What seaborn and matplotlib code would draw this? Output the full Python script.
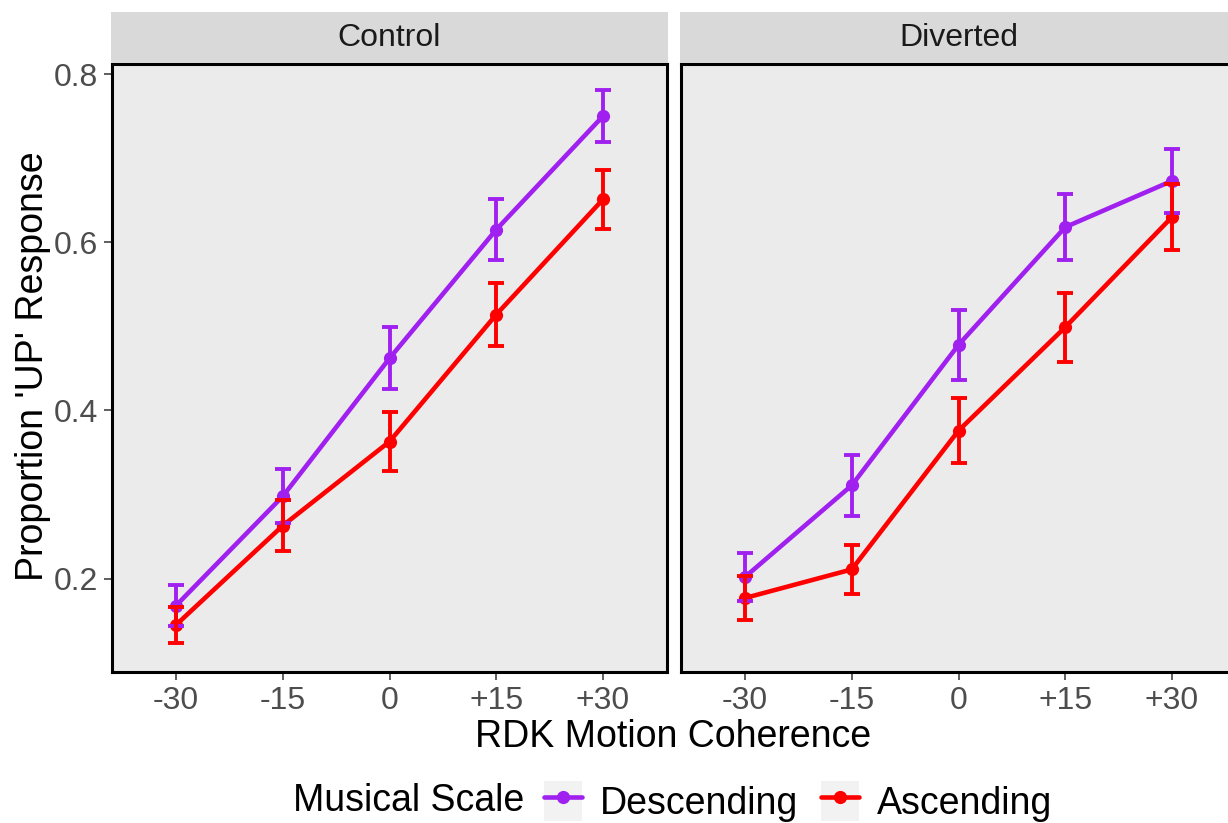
import pandas as pd
import matplotlib
matplotlib.use("Agg")
import matplotlib.pyplot as plt
import seaborn as sns
from matplotlib.patches import Patch
from matplotlib.lines import Line2D
from matplotlib.legend_handler import HandlerTuple
from matplotlib.offsetbox import HPacker

# data
coherence = ["-30", "-15", "0", "+15", "+30"]
conditions = ["Control", "Diverted"]
scales = ["Descending", "Ascending"]

control_desc = [0.168, 0.298, 0.462, 0.615, 0.750]
control_desc_se = [0.024, 0.032, 0.037, 0.036, 0.031]
control_asc = [0.145, 0.263, 0.363, 0.514, 0.651]
control_asc_se = [0.021, 0.030, 0.035, 0.037, 0.035]
diverted_desc = [0.202, 0.311, 0.478, 0.618, 0.673]
diverted_desc_se = [0.029, 0.036, 0.042, 0.039, 0.038]
diverted_asc = [0.177, 0.211, 0.376, 0.499, 0.630]
diverted_asc_se = [0.026, 0.029, 0.039, 0.041, 0.039]

colors = {"Descending": "#A020F0", "Ascending": "#FF0000"}

rows = []
series = {
    ("Control", "Descending"): (control_desc, control_desc_se),
    ("Control", "Ascending"): (control_asc, control_asc_se),
    ("Diverted", "Descending"): (diverted_desc, diverted_desc_se),
    ("Diverted", "Ascending"): (diverted_asc, diverted_asc_se),
}
for (cond, sc), (vals, ses) in series.items():
    for i, (v, s) in enumerate(zip(vals, ses)):
        rows.append({"condition": cond, "scale": sc, "pos": i,
                     "prop": v, "se": s})
df = pd.DataFrame(rows)

sns.set_style("white")
plt.rcParams['font.family'] = ['Liberation Sans', 'DejaVu Sans']

W, H = 1228, 823
fig = plt.figure(figsize=(W / 100, H / 100), dpi=100)

panel_left = [112, 681]
panel_w = 555
panel_top, panel_bot = 64, 672
strip_top = 12

for k, cond in enumerate(conditions):
    x0 = panel_left[k]
    ax = fig.add_axes([x0 / W, 1 - panel_bot / H, panel_w / W,
                       (panel_bot - panel_top) / H])
    ax.set_facecolor("#EBEBEB")
    sub = df[df["condition"] == cond]
    sns.lineplot(data=sub, x="pos", y="prop", hue="scale", hue_order=scales,
                 palette=colors, marker="o", markersize=9.5, markeredgewidth=0,
                 linewidth=3.3, legend=False, ax=ax)
    for sc in scales:
        s = sub[sub["scale"] == sc]
        ax.errorbar(s["pos"], s["prop"], yerr=s["se"], fmt="none",
                    ecolor=colors[sc], elinewidth=2.8, capsize=5.5, capthick=2.8)
    ax.set_xlim(-0.6, 4.6)
    ax.set_ylim(0.089, 0.812)
    ax.set_xticks(range(len(coherence)))
    ax.set_xticklabels(coherence)
    ax.set_yticks([0.2, 0.4, 0.6, 0.8])
    ax.set_xlabel("")
    ax.set_ylabel("")
    ax.grid(False)
    for sp in ax.spines.values():
        sp.set_color("black")
        sp.set_linewidth(2.2)
    ax.tick_params(axis="both", direction="out", length=6, width=1.1,
                   color="#333333", labelsize=23, labelcolor="#4D4D4D", pad=4)
    ax.tick_params(axis="both", which="both", bottom=True, left=True)
    if k == 1:
        ax.set_yticklabels([])
        ax.tick_params(axis="y", left=False)

    # facet strip
    sax = fig.add_axes([(x0 - 1) / W, 1 - (panel_top - 1) / H, (panel_w + 2) / W,
                        (panel_top - 1 - strip_top) / H])
    sax.set_facecolor("#D9D9D9")
    sax.set_xticks([])
    sax.set_yticks([])
    for sp in sax.spines.values():
        sp.set_visible(False)
    sax.text(0.5, 0.5, cond, ha="center", va="center", fontsize=23,
             color="#1A1A1A", transform=sax.transAxes)

fig.text(33 / W, 1 - 366 / H, "Proportion 'UP' Response", rotation=90,
         ha="center", va="center", fontsize=27, color="black")
fig.text(673 / W, 1 - 737 / H, "RDK Motion Coherence", ha="center",
         va="center", fontsize=27, color="black")

handles = [(Patch(facecolor="#F2F2F2", edgecolor="none"),
            Line2D([], [], color=colors[sc], lw=3.3, marker="o",
                   markersize=9.5, markeredgewidth=0)) for sc in scales]
leg = fig.legend(handles, scales, ncol=3, loc="center",
                 bbox_to_anchor=(673 / W, 1 - 801 / H),
                 handler_map={tuple: HandlerTuple(ndivide=1, pad=0)},
                 frameon=False, fontsize=27, handlelength=1.0,
                 handleheight=1.3, handletextpad=0.5, columnspacing=0.6,
                 title="Musical Scale", title_fontsize=27, labelcolor="black")
leg.get_title().set_color("black")
# put the title on the left of the keys, as ggplot does
title_box = leg._legend_title_box
children = leg._legend_box.get_children()
leg._legend_box = HPacker(pad=0, sep=14, align="center",
                          children=[title_box, children[1]])
leg._legend_box.set_figure(fig)
leg._legend_box.set_offset(leg._findoffset)

fig.savefig("out.png", dpi=100)
